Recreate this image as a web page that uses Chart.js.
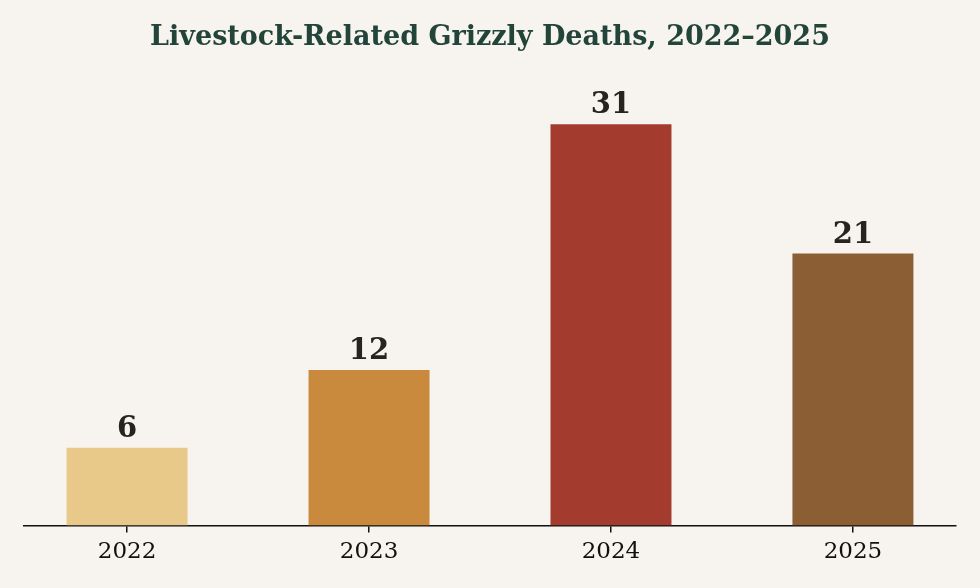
<!DOCTYPE html>
<html>
<head>
<meta charset="utf-8">
<script src="https://cdn.jsdelivr.net/npm/chart.js@4/dist/chart.umd.min.js"></script>
<style>
  html, body { margin: 0; padding: 0; background: #f7f3ee; }
  #wrap { width: 980px; height: 588px; }
</style>
</head>
<body>
<div id="wrap"><canvas id="chart"></canvas></div>
<script>
// data
const years = ['2022', '2023', '2024', '2025'];
const deaths = [6, 12, 31, 21];
const barColors = ['#e8c98a', '#c98a3d', '#a33c2f', '#8b5e34'];

// value labels above each bar
const valueLabels = {
    id: 'valueLabels',
    afterDatasetsDraw(chart) {
        const ctx = chart.ctx;
        const meta = chart.getDatasetMeta(0);
        ctx.save();
        ctx.font = 'bold 29px "DejaVu Serif"';
        ctx.fillStyle = '#26241d';
        ctx.textAlign = 'center';
        ctx.textBaseline = 'alphabetic';
        meta.data.forEach((bar, i) => {
            ctx.fillText(String(deaths[i]), bar.x, bar.y - 11);
        });
        ctx.restore();
    }
};

const ctx = document.getElementById('chart').getContext('2d');
new Chart(ctx, {
    type: 'bar',
    data: {
        datasets: [{
            data: deaths.map((v, i) => ({ x: i, y: v })),
            backgroundColor: barColors,
            borderWidth: 0,
            barPercentage: 0.5,
            categoryPercentage: 1
        }]
    },
    options: {
        responsive: true,
        maintainAspectRatio: false,
        animation: false,
        layout: { padding: { left: 24, right: 24, top: 0, bottom: 16 } },
        plugins: {
            legend: { display: false },
            tooltip: { enabled: false },
            title: {
                display: true,
                text: 'Livestock-Related Grizzly Deaths, 2022\u20132025',
                color: '#22443a',
                font: { family: '"DejaVu Serif"', size: 27, weight: 'bold' },
                padding: { top: 22, bottom: 18 }
            }
        },
        scales: {
            x: {
                type: 'linear',
                offset: false,
                min: -0.426,
                max: 3.426,
                afterBuildTicks(axis) {
                    axis.ticks = years.map((y, i) => ({ value: i }));
                },
                ticks: {
                    color: '#111',
                    padding: 6,
                    maxRotation: 0,
                    font: { family: '"DejaVu Serif"', size: 23 },
                    callback: (v) => years[v]
                },
                grid: {
                    offset: false,
                    drawOnChartArea: false,
                    drawTicks: true,
                    tickLength: 7,
                    color: '#111',
                    lineWidth: 1.5
                },
                border: { display: true, color: '#111', width: 1.5 }
            },
            y: {
                display: false,
                min: 0,
                max: 35
            }
        }
    },
    plugins: [valueLabels]
});
</script>
</body>
</html>
